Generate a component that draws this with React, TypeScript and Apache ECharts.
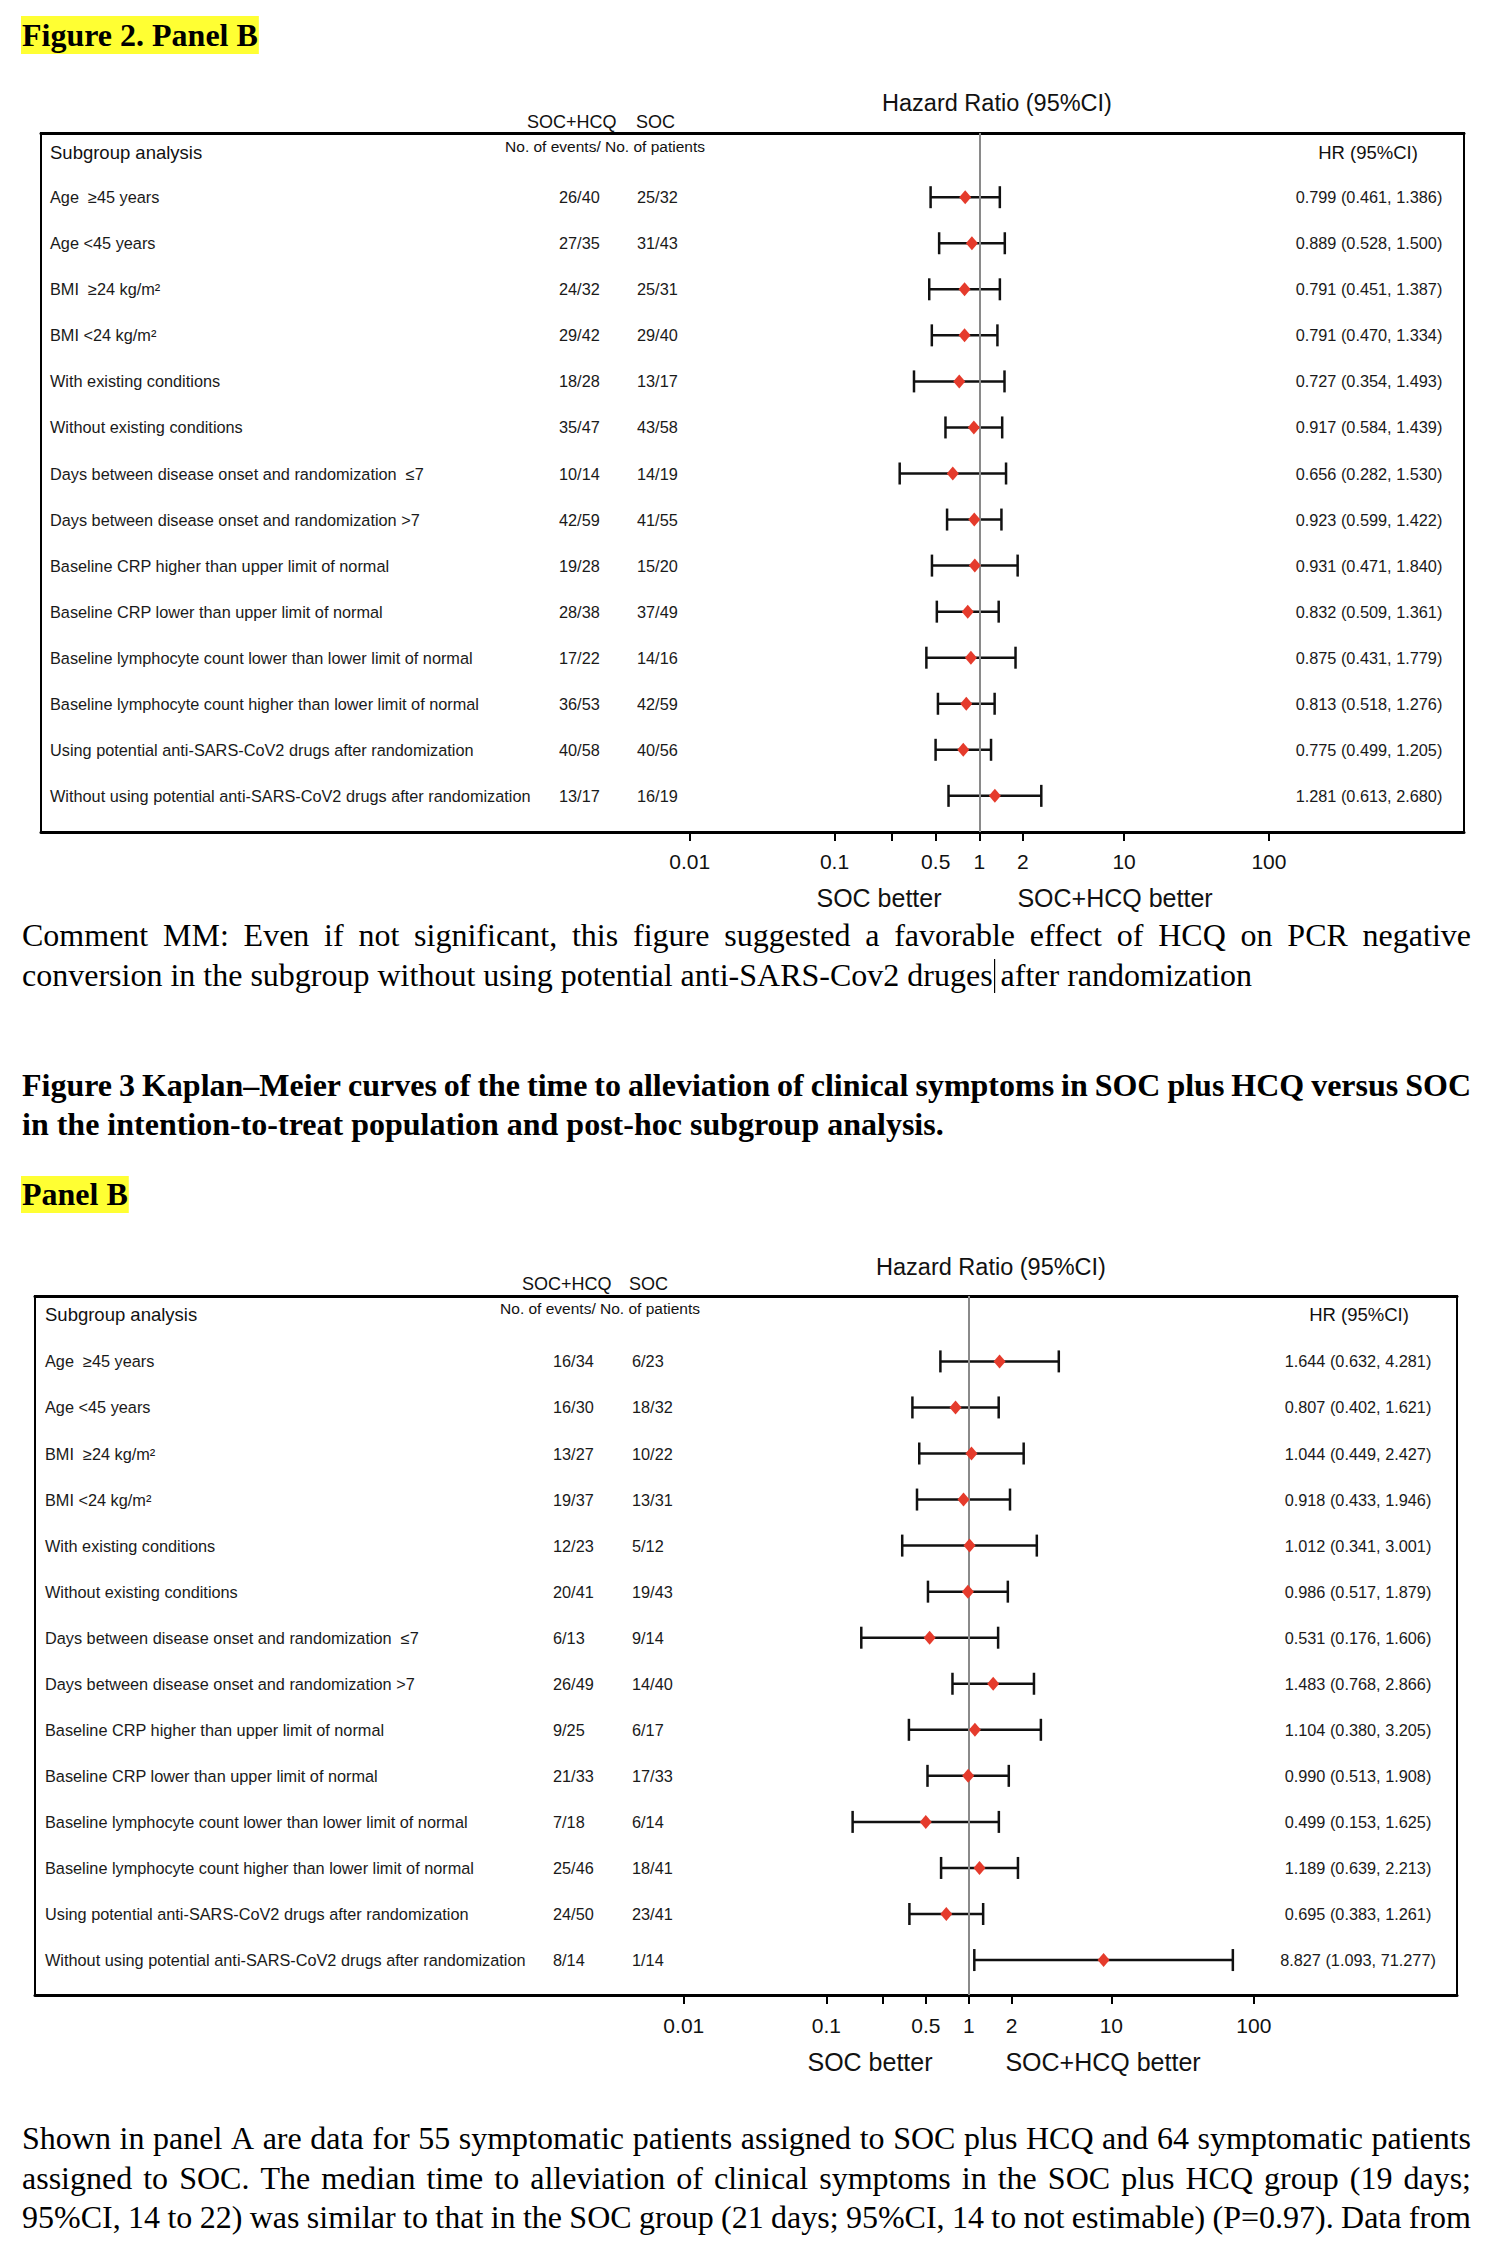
import React, { useEffect, useRef } from 'react';
import * as echarts from 'echarts';

// ---------------- DATA ----------------
const subgroups = [
  'Age \u00a0≥45 years',
  'Age <45 years',
  'BMI \u00a0≥24 kg/m²',
  'BMI <24 kg/m²',
  'With existing conditions',
  'Without existing conditions',
  'Days between disease onset and randomization \u00a0≤7',
  'Days between disease onset and randomization >7',
  'Baseline CRP higher than upper limit of normal',
  'Baseline CRP lower than upper limit of normal',
  'Baseline lymphocyte count lower than lower limit of normal',
  'Baseline lymphocyte count higher than lower limit of normal',
  'Using potential anti-SARS-CoV2 drugs after randomization',
  'Without using potential anti-SARS-CoV2 drugs after randomization',
];

// Figure 2, Panel B
const f2HcqEvents = [26, 27, 24, 29, 18, 35, 10, 42, 19, 28, 17, 36, 40, 13];
const f2HcqPatients = [40, 35, 32, 42, 28, 47, 14, 59, 28, 38, 22, 53, 58, 17];
const f2SocEvents = [25, 31, 25, 29, 13, 43, 14, 41, 15, 37, 14, 42, 40, 16];
const f2SocPatients = [32, 43, 31, 40, 17, 58, 19, 55, 20, 49, 16, 59, 56, 19];
const f2HR = [0.799, 0.889, 0.791, 0.791, 0.727, 0.917, 0.656, 0.923, 0.931, 0.832, 0.875, 0.813, 0.775, 1.281];
const f2Lower = [0.461, 0.528, 0.451, 0.47, 0.354, 0.584, 0.282, 0.599, 0.471, 0.509, 0.431, 0.518, 0.499, 0.613];
const f2Upper = [1.386, 1.5, 1.387, 1.334, 1.493, 1.439, 1.53, 1.422, 1.84, 1.361, 1.779, 1.276, 1.205, 2.68];

// Figure 3, Panel B
const f3HcqEvents = [16, 16, 13, 19, 12, 20, 6, 26, 9, 21, 7, 25, 24, 8];
const f3HcqPatients = [34, 30, 27, 37, 23, 41, 13, 49, 25, 33, 18, 46, 50, 14];
const f3SocEvents = [6, 18, 10, 13, 5, 19, 9, 14, 6, 17, 6, 18, 23, 1];
const f3SocPatients = [23, 32, 22, 31, 12, 43, 14, 40, 17, 33, 14, 41, 41, 14];
const f3HR = [1.644, 0.807, 1.044, 0.918, 1.012, 0.986, 0.531, 1.483, 1.104, 0.99, 0.499, 1.189, 0.695, 8.827];
const f3Lower = [0.632, 0.402, 0.449, 0.433, 0.341, 0.517, 0.176, 0.768, 0.38, 0.513, 0.153, 0.639, 0.383, 1.093];
const f3Upper = [4.281, 1.621, 2.427, 1.946, 3.001, 1.879, 1.606, 2.866, 3.205, 1.908, 1.625, 2.213, 1.261, 71.277];

const tickValues = [0.01, 0.1, 0.25, 0.5, 1, 2, 10, 100];
const tickLabelValues = [0.01, 0.1, 0.5, 1, 2, 10, 100];

// ---------------- TEXTS ----------------
const fig2Title = 'Figure 2. Panel B';
const commentLine1 = 'Comment MM: Even if not significant, this figure suggested a favorable effect of HCQ on PCR negative';
const commentLine2a = 'conversion in the subgroup without using potential anti-SARS-Cov2 druges';
const commentLine2b = ' after randomization';
const fig3Line1 = 'Figure 3 Kaplan–Meier curves of the time to alleviation of clinical symptoms in SOC plus HCQ versus SOC';
const fig3Line2 = 'in the intention-to-treat population and post-hoc subgroup analysis.';
const panelBTitle = 'Panel B';
const paraLines = [
  'Shown in panel A are data for 55 symptomatic patients assigned to SOC plus HCQ and 64 symptomatic patients',
  'assigned to SOC. The median time to alleviation of clinical symptoms in the SOC plus HCQ group (19 days;',
  '95%CI, 14 to 22) was similar to that in the SOC group (21 days; 95%CI, 14 to not estimable) (P=0.97). Data from',
];

// ---------------- LAYOUT ----------------
const SERIF = '"Liberation Serif", "Times New Roman", serif';
const SANS = '"Liberation Sans", Arial, sans-serif';
const BODY_FONT = `32px ${SERIF}`;
const BOLD_FONT = `bold 32px ${SERIF}`;
const TEXT_LEFT = 22;
const TEXT_RIGHT = 1471;
const HIGHLIGHT = '#ffff33';
const RED = '#e53b2c';

interface Panel {
  hcqE: number[]; hcqN: number[]; socE: number[]; socN: number[];
  hr: number[]; lo: number[]; hi: number[];
  left: number; right: number; top: number; bottom: number;
  refX: number; decadePx: number; row0Y: number; rowStep: number;
  labelX: number; col1X: number; col2X: number; ciX: number;
  headerY: number; hrHeaderX: number; noEventsX: number; noEventsY: number;
  groupsY: number; socHcqX: number; socX: number; titleX: number; titleY: number;
  axisLabelY: number; betterY: number; socBetterX: number; hcqBetterX: number;
}

const panel1: Panel = {
  hcqE: f2HcqEvents, hcqN: f2HcqPatients, socE: f2SocEvents, socN: f2SocPatients,
  hr: f2HR, lo: f2Lower, hi: f2Upper,
  left: 41, right: 1464, top: 133, bottom: 832,
  refX: 979.3, decadePx: 144.8, row0Y: 197.2, rowStep: 46.05,
  labelX: 50, col1X: 559, col2X: 637, ciX: 1369,
  headerY: 152, hrHeaderX: 1368, noEventsX: 605, noEventsY: 146,
  groupsY: 122, socHcqX: 527, socX: 636, titleX: 997, titleY: 103,
  axisLabelY: 861, betterY: 898, socBetterX: 879, hcqBetterX: 1115,
};

const panel2: Panel = {
  hcqE: f3HcqEvents, hcqN: f3HcqPatients, socE: f3SocEvents, socN: f3SocPatients,
  hr: f3HR, lo: f3Lower, hi: f3Upper,
  left: 35, right: 1457, top: 1296, bottom: 1995,
  refX: 968.8, decadePx: 142.5, row0Y: 1361.4, rowStep: 46.05,
  labelX: 45, col1X: 553, col2X: 632, ciX: 1358,
  headerY: 1314, hrHeaderX: 1359, noEventsX: 600, noEventsY: 1308,
  groupsY: 1284, socHcqX: 522, socX: 629, titleX: 991, titleY: 1267,
  axisLabelY: 2025, betterY: 2062, socBetterX: 870, hcqBetterX: 1103,
};

const fmt = (v: number) => v.toFixed(3);

function txt(text: string, x: number, y: number, font: string, align = 'left', fill = '#000') {
  return {
    type: 'text', x, y, silent: true,
    style: { text, font, fill, align, verticalAlign: 'middle', textAlign: align, textVerticalAlign: 'middle' },
  };
}

function buildOption() {
  const canvas = document.createElement('canvas');
  const ctx = canvas.getContext('2d') as CanvasRenderingContext2D;
  const measure = (s: string, font: string) => { ctx.font = font; return ctx.measureText(s).width; };

  const justified = (line: string, y: number, font: string) => {
    const words = line.split(' ');
    const widths = words.map((w) => measure(w, font));
    const total = widths.reduce((a, b) => a + b, 0);
    const gap = (TEXT_RIGHT - TEXT_LEFT - total) / (words.length - 1);
    let x = TEXT_LEFT;
    return words.map((w, k) => {
      const el = txt(w, x, y, font);
      x += widths[k] + gap;
      return el;
    });
  };

  const graphics: any[] = [];
  // Headings with highlight
  const w1 = measure(fig2Title, BOLD_FONT);
  graphics.push({ type: 'rect', shape: { x: 21, y: 16, width: w1 + 2, height: 38 }, style: { fill: HIGHLIGHT }, silent: true });
  graphics.push(txt(fig2Title, TEXT_LEFT, 35, BOLD_FONT));

  // Comment paragraph
  graphics.push(...justified(commentLine1, 935, BODY_FONT));
  graphics.push(txt(commentLine2a + commentLine2b, TEXT_LEFT, 975, BODY_FONT));
  const cursorX = TEXT_LEFT + measure(commentLine2a, BODY_FONT) + 2;
  graphics.push({ type: 'line', shape: { x1: cursorX, y1: 959, x2: cursorX, y2: 993 }, style: { stroke: '#000', lineWidth: 1.2 }, silent: true });

  // Figure 3 heading
  graphics.push(...justified(fig3Line1, 1085, BOLD_FONT));
  graphics.push(txt(fig3Line2, TEXT_LEFT, 1124, BOLD_FONT));
  const w2 = measure(panelBTitle, BOLD_FONT);
  graphics.push({ type: 'rect', shape: { x: 21, y: 1176, width: w2 + 2, height: 37 }, style: { fill: HIGHLIGHT }, silent: true });
  graphics.push(txt(panelBTitle, TEXT_LEFT, 1194, BOLD_FONT));

  // Bottom paragraph
  const paraY = [2138, 2178, 2217];
  paraLines.forEach((l, k) => graphics.push(...justified(l, paraY[k], BODY_FONT)));

  // Panel headers
  [panel1, panel2].forEach((p) => {
    graphics.push(txt('Hazard Ratio (95%CI)', p.titleX, p.titleY, `23.5px ${SANS}`, 'center', '#111'));
    graphics.push(txt('SOC+HCQ', p.socHcqX, p.groupsY, `18px ${SANS}`, 'left', '#111'));
    graphics.push(txt('SOC', p.socX, p.groupsY, `18px ${SANS}`, 'left', '#111'));
    graphics.push(txt('Subgroup analysis', p.labelX, p.headerY, `18.5px ${SANS}`, 'left', '#111'));
    graphics.push(txt('No. of events/ No. of patients', p.noEventsX, p.noEventsY, `15.5px ${SANS}`, 'center', '#111'));
    graphics.push(txt('HR (95%CI)', p.hrHeaderX, p.headerY, `18.5px ${SANS}`, 'center', '#111'));
    graphics.push(txt('SOC better', p.socBetterX, p.betterY, `25px ${SANS}`, 'center', '#111'));
    graphics.push(txt('SOC+HCQ better', p.hcqBetterX, p.betterY, `25px ${SANS}`, 'center', '#111'));
  });

  const panels = [panel1, panel2];
  const grids = panels.map((p) => ({
    left: p.left, top: p.top, width: p.right - p.left, height: p.bottom - p.top,
    show: true, borderColor: '#000', borderWidth: 2, backgroundColor: 'transparent', containLabel: false,
  }));

  const labelFormatter = (v: number) => {
    const hit = tickLabelValues.find((t) => Math.abs(Math.log10(t) - Math.log10(v)) < 1e-6);
    return hit === undefined ? '' : String(hit);
  };

  const xAxes: any[] = [];
  const yAxes: any[] = [];
  panels.forEach((p, gi) => {
    const min = Math.pow(10, (p.left - p.refX) / p.decadePx);
    const max = Math.pow(10, (p.right - p.refX) / p.decadePx);
    xAxes.push({
      gridIndex: gi, type: 'log', logBase: 10, min, max, position: 'bottom',
      axisLine: { show: true, onZero: false, lineStyle: { color: '#000', width: 3 } },
      axisTick: { show: true, customValues: tickValues, length: 9, lineStyle: { color: '#000', width: 2 } },
      axisLabel: {
        show: true, customValues: tickLabelValues, formatter: labelFormatter,
        margin: p.axisLabelY - p.bottom - 10.5, fontSize: 21, lineHeight: 21, fontFamily: SANS, color: '#111',
      },
      splitLine: { show: false }, minorTick: { show: false }, minorSplitLine: { show: false },
    });
    xAxes.push({
      gridIndex: gi, type: 'log', logBase: 10, min, max, position: 'top',
      axisLine: { show: true, onZero: false, lineStyle: { color: '#000', width: 3 } },
      axisTick: { show: false }, axisLabel: { show: false }, splitLine: { show: false },
    });
    yAxes.push({
      gridIndex: gi, type: 'value', inverse: true,
      min: -(p.row0Y - p.top) / p.rowStep, max: (p.bottom - p.row0Y) / p.rowStep,
      show: false, splitLine: { show: false },
    });
  });

  const series: any[] = [];
  panels.forEach((p, gi) => {
    const rowFont = `16.3px ${SANS}`;
    series.push({
      type: 'custom', xAxisIndex: gi * 2, yAxisIndex: gi, z: 2, clip: false,
      data: subgroups.map((_, i) => [i, p.lo[i], p.hi[i]]),
      dimensions: ['row', 'lower', 'upper'],
      encode: { x: [1, 2], y: 0 },
      renderItem: (params: any, api: any) => {
        const i = params.dataIndex;
        const row = api.value(0);
        const a = api.coord([api.value(1), row]);
        const b = api.coord([api.value(2), row]);
        const y = a[1];
        const ls = { stroke: '#111', lineWidth: 2.5 };
        const cap = 11;
        const t = (text: string, x: number, align: string) => ({
          type: 'text', x, y,
          style: { text, font: rowFont, fill: '#1a1a1a', align, verticalAlign: 'middle', textAlign: align, textVerticalAlign: 'middle' },
        });
        return {
          type: 'group',
          children: [
            { type: 'line', shape: { x1: a[0], y1: y, x2: b[0], y2: y }, style: ls },
            { type: 'line', shape: { x1: a[0], y1: y - cap, x2: a[0], y2: y + cap }, style: ls },
            { type: 'line', shape: { x1: b[0], y1: y - cap, x2: b[0], y2: y + cap }, style: ls },
            t(subgroups[i], p.labelX, 'left'),
            t(`${p.hcqE[i]}/${p.hcqN[i]}`, p.col1X, 'left'),
            t(`${p.socE[i]}/${p.socN[i]}`, p.col2X, 'left'),
            t(`${fmt(p.hr[i])} (${fmt(p.lo[i])}, ${fmt(p.hi[i])})`, p.ciX, 'center'),
          ],
        };
      },
      markLine: {
        silent: true, symbol: ['none', 'none'], z: 3, label: { show: false },
        lineStyle: { color: '#8a8a8a', width: 2, type: 'solid' },
        data: [{ xAxis: 1 }],
      },
    });
    series.push({
      type: 'scatter', xAxisIndex: gi * 2, yAxisIndex: gi, z: 5,
      symbol: 'diamond', symbolSize: [12, 14],
      itemStyle: { color: RED, opacity: 1 },
      data: p.hr.map((v, i) => [v, i]),
    });
  });

  return {
    animation: false,
    backgroundColor: '#fff',
    grid: grids,
    xAxis: xAxes,
    yAxis: yAxes,
    series,
    graphic: { elements: graphics },
  };
}

export default function App() {
  const ref = useRef<HTMLDivElement>(null);
  useEffect(() => {
    document.body.style.margin = '0';
    document.body.style.overflow = 'hidden';
    const el = ref.current as HTMLDivElement;
    const chart = echarts.init(el, null, { renderer: 'svg' });
    chart.setOption(buildOption() as any);
    return () => chart.dispose();
  }, []);
  return <div ref={ref} style={{ width: 1494, height: 2256, background: '#fff' }} />;
}
